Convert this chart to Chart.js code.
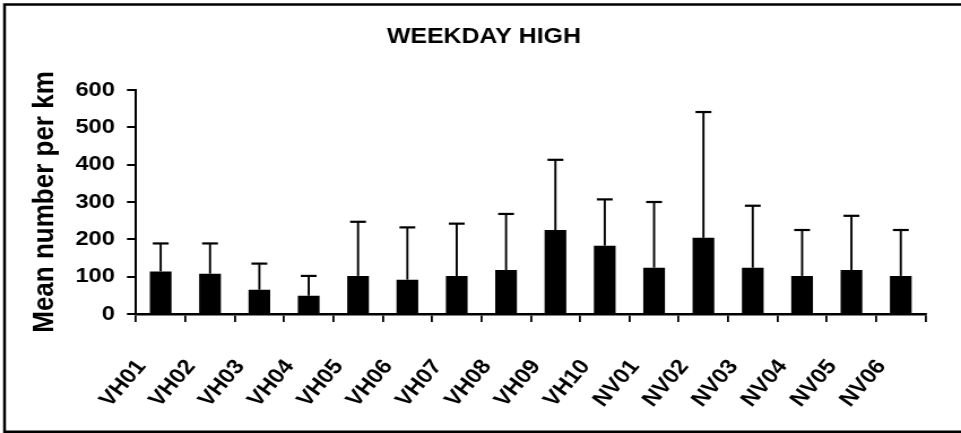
<!DOCTYPE html>
<html>
<head>
<meta charset="utf-8">
<script src="https://cdn.jsdelivr.net/npm/chart.js@4/dist/chart.umd.min.js"></script>
<style>
  html, body { margin: 0; padding: 0; background: #fff; }
  #wrap { width: 850px; height: 433px; transform: scaleX(1.1306); transform-origin: 0 0; }
  #chart { display: block; }
</style>
</head>
<body>
<div id="wrap"><canvas id="chart" width="850" height="433" style="width:850px;height:433px"></canvas></div>
<script>
const sites = ["VH01", "VH02", "VH03", "VH04", "VH05", "VH06", "VH07", "VH08",
    "VH09", "VH10", "NV01", "NV02", "NV03", "NV04", "NV05", "NV06"];
const means = [114, 108, 65, 49, 102, 92, 102, 118, 225, 183, 124, 204, 124, 102, 118, 102];
const sds = [75, 81, 70, 53, 145, 140, 140, 150, 188, 124, 176, 337, 166, 123, 145, 123];
const yTicks = [0, 100, 200, 300, 400, 500, 600];

const FONT = "'Liberation Sans', Arial, Helvetica, sans-serif";

// frame round the whole picture (right side is cut off in the original)
const framePlugin = {
    id: "frame",
    beforeDraw(chart) {
        const ctx = chart.ctx;
        ctx.save();
        ctx.strokeStyle = "#000";
        ctx.lineWidth = 2.5;
        ctx.beginPath();
        ctx.moveTo(860, 4.5);
        ctx.lineTo(4, 4.5);
        ctx.lineTo(4, 431.8);
        ctx.lineTo(860, 431.8);
        ctx.stroke();
        ctx.restore();
    }
};

// upper error bars
const errorPlugin = {
    id: "errors",
    afterDatasetsDraw(chart) {
        const ctx = chart.ctx;
        const y = chart.scales.y;
        const meta = chart.getDatasetMeta(0);
        ctx.save();
        ctx.strokeStyle = "#000";
        meta.data.forEach((bar, i) => {
            const top = y.getPixelForValue(means[i] + sds[i]);
            ctx.lineWidth = 1.9;
            ctx.beginPath();
            ctx.moveTo(bar.x, bar.y);
            ctx.lineTo(bar.x, top);
            ctx.stroke();
            ctx.lineWidth = 2.2;
            ctx.beginPath();
            ctx.moveTo(bar.x - 7, top);
            ctx.lineTo(bar.x + 7, top);
            ctx.stroke();
        });
        ctx.restore();
    }
};

new Chart(document.getElementById("chart"), {
    type: "bar",
    data: {
        labels: sites,
        datasets: [{
            data: means,
            backgroundColor: "#000",
            borderWidth: 0,
            barPercentage: 0.44,
            categoryPercentage: 1
        }]
    },
    options: {
        responsive: false,
        animation: false,
        devicePixelRatio: 1,
        layout: { padding: { left: 19.3, right: 13.3, top: 0, bottom: 0 } },
        plugins: {
            legend: { display: false },
            tooltip: { enabled: false },
            title: {
                display: true,
                text: "WEEKDAY HIGH",
                color: "#000",
                font: { family: FONT, size: 22, weight: "bold", lineHeight: 1.2 },
                padding: { top: 23.5, bottom: 40.1 }
            }
        },
        scales: {
            x: {
                grid: {
                    offset: true,
                    drawOnChartArea: false,
                    drawTicks: true,
                    tickLength: 8,
                    color: "#000",
                    lineWidth: 1.8
                },
                border: { display: true, color: "#000", width: 2.5 },
                ticks: {
                    autoSkip: false,
                    minRotation: 52,
                    maxRotation: 52,
                    padding: 33,
                    labelOffset: -17,
                    color: "#000",
                    font: { family: FONT, size: 21, weight: "bold" }
                },
                afterFit(scale) { scale.height = 119; }
            },
            y: {
                min: 0,
                max: 600,
                afterBuildTicks(scale) { scale.ticks = yTicks.map(v => ({ value: v })); },
                grid: {
                    drawOnChartArea: false,
                    drawTicks: true,
                    tickLength: 8,
                    color: "#000",
                    lineWidth: 2
                },
                border: { display: true, color: "#000", width: 2 },
                ticks: {
                    padding: 10.6,
                    color: "#000",
                    font: { family: FONT, size: 21, weight: "bold" }
                },
                title: {
                    display: true,
                    text: "Mean number per km",
                    color: "#000",
                    padding: { top: 5, bottom: 0 },
                    font: { family: FONT, size: 26, weight: "bold", lineHeight: 1.2 }
                },
                afterFit(scale) { scale.width = 101; }
            }
        }
    },
    plugins: [framePlugin, errorPlugin]
});
</script>
</body>
</html>
